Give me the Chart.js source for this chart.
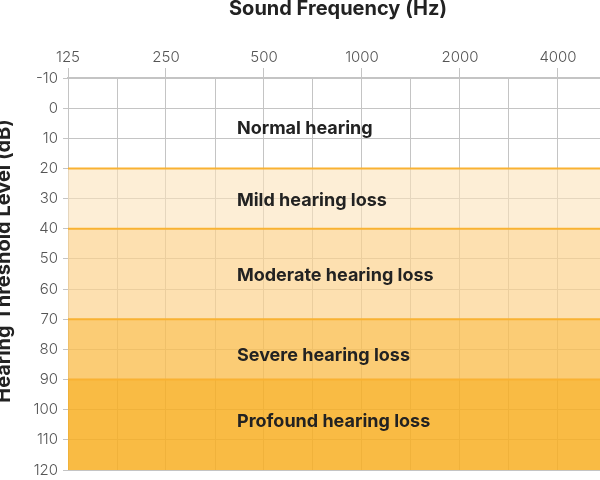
<!DOCTYPE html>
<html>
<head>
<meta charset="utf-8">
<script src="https://cdn.jsdelivr.net/npm/chart.js@4"></script>
<style>
  html, body { margin: 0; padding: 0; background: #fff; overflow: hidden; }
  #wrap { width: 600px; height: 480px; position: relative; }
</style>
</head>
<body>
<div id="wrap"><canvas id="c"></canvas></div>
<script>
// ---- data ----
const xTitle = 'Sound Frequency (Hz)';
const yTitle = 'Hearing Threshold Level (dB)';
const freqTicks = [125, 177, 250, 354, 500, 707, 1000, 1414, 2000, 2828, 4000];
const freqLabels = ['125', '', '250', '', '500', '', '1000', '', '2000', '', '4000'];
const freqRange = [125, 5384];
const dbRange = [-10, 120];
const bandNames = ['Normal hearing', 'Mild hearing loss', 'Moderate hearing loss', 'Severe hearing loss', 'Profound hearing loss'];
const bandTop = [-10, 20, 40, 70, 90];
const bandBottom = [20, 40, 70, 90, 120];
const bandColors = ['rgba(255,255,255,0)', 'rgba(252,227,187,0.6)', 'rgba(252,211,142,0.7)', 'rgba(250,191,83,0.8)', 'rgba(248,175,35,0.85)'];
const labelDb = [6.8, 30.5, 55.4, 81.9, 104];
const labelFreq = 413;

// ---- build datasets: one boundary line per band bottom, filled to previous ----
const datasets = [];
datasets.push({
  data: [{x: freqRange[0], y: bandTop[0]}, {x: freqRange[1], y: bandTop[0]}],
  borderWidth: 0, borderColor: 'rgba(0,0,0,0)', pointRadius: 0, fill: false
});
bandBottom.forEach((v, i) => {
  const isLast = i === bandBottom.length - 1;
  datasets.push({
    data: [{x: freqRange[0], y: v}, {x: freqRange[1], y: v}],
    borderColor: isLast ? 'rgba(0,0,0,0)' : '#f9b232',
    borderWidth: isLast ? 0 : 2,
    pointRadius: 0,
    backgroundColor: bandColors[i],
    fill: i === 0 ? false : '-1'
  });
});

const bandLabelPlugin = {
  id: 'bandLabels',
  afterDatasetsDraw(chart) {
    const ctx = chart.ctx, xs = chart.scales.x, ys = chart.scales.y;
    ctx.save();
    ctx.font = 'bold 18px Inter, Roboto, sans-serif';
    ctx.fillStyle = '#222222';
    ctx.textAlign = 'left';
    ctx.textBaseline = 'middle';
    bandNames.forEach((name, i) => {
      ctx.fillText(name, xs.getPixelForValue(labelFreq), ys.getPixelForValue(labelDb[i]));
    });
    ctx.restore();
  },
  afterDraw(chart) {
    const ctx = chart.ctx;
    ctx.save();
    ctx.font = 'bold 20px Inter, Roboto, sans-serif';
    ctx.fillStyle = '#222222';
    ctx.textAlign = 'center';
    ctx.textBaseline = 'alphabetic';
    ctx.fillText(xTitle, 338, 15);
    ctx.translate(10, 261);
    ctx.rotate(-Math.PI / 2);
    ctx.fillText(yTitle, 0, 0);
    ctx.restore();
  }
};

new Chart(document.getElementById('c'), {
  type: 'line',
  data: { datasets },
  options: {
    responsive: true,
    maintainAspectRatio: false,
    animation: false,
    layout: { padding: { top: 0, bottom: 0, left: 0, right: 0 } },
    plugins: { legend: { display: false }, tooltip: { enabled: false } },
    scales: {
      x: {
        type: 'logarithmic',
        position: 'top',
        min: freqRange[0],
        max: freqRange[1],
        afterFit(s) { s.height = 78; s.paddingLeft = 0; s.paddingRight = 0; },
        afterBuildTicks(s) { s.ticks = freqTicks.map(v => ({ value: v })); },
        ticks: {
          autoSkip: false,
          maxRotation: 0,
          padding: 2,
          color: '#555555',
          font: { family: 'Inter, Roboto, sans-serif', size: 15, weight: '300' },
          callback(value) { const i = freqTicks.indexOf(value); return i >= 0 ? freqLabels[i] : ''; }
        },
        grid: {
          color: '#c4c4c4',
          lineWidth: 1,
          tickLength: 10,
          tickColor: (c) => (c.index % 2 === 0 ? '#c4c4c4' : 'rgba(0,0,0,0)')
        },
        border: { display: true, color: '#c4c4c4', width: 1.5 }
      },
      y: {
        type: 'linear',
        reverse: true,
        min: dbRange[0],
        max: dbRange[1],
        afterFit(s) { s.width = 68; s.paddingTop = 0; s.paddingBottom = 10; },
        ticks: {
          stepSize: 10,
          padding: 5,
          color: '#555555',
          font: { family: 'Inter, Roboto, sans-serif', size: 15, weight: '300' }
        },
        grid: { color: '#c4c4c4', lineWidth: 1, tickLength: 5 },
        border: { display: false }
      }
    }
  },
  plugins: [bandLabelPlugin]
});
</script>
</body>
</html>
